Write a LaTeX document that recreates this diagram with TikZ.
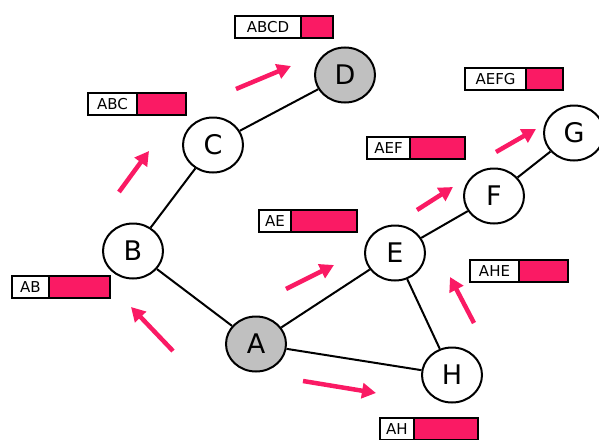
\documentclass[tikz,border=0pt]{standalone}
\usepackage{fontspec}
\setmainfont{DejaVu Sans}
\usetikzlibrary{shapes.geometric,arrows.meta}
\definecolor{hot}{RGB}{250,26,100}
\definecolor{nodegray}{RGB}{192,192,192}
\newcommand\pathbox[5]{% name, x0, xd, y0, text
  \node[lbl, fill=white, minimum width={#3-#2-1}, minimum height=22, anchor=north west] (#1w) at (#2+1,#4+1) {#5};
  \node[lbl, fill=hot, minimum width={#2+99-#3}, minimum height=22, anchor=north west] (#1p) at (#3,#4+1) {};
}
\begin{document}
\begin{tikzpicture}[x=1pt,y=-1pt,
  vert/.style={ellipse, draw, line width=2pt, minimum width=60pt, minimum height=55pt, inner sep=0pt, fill=white, font=\fontsize{27}{27}\selectfont},
  seen/.style={vert, fill=nodegray},
  edge/.style={line width=2pt},
  move/.style={draw=hot, line width=4.5pt, -{Triangle[length=14pt,width=15pt]}},
  lbl/.style={draw, line width=2pt, rectangle, inner sep=0pt, font=\fontsize{15}{15}\selectfont},
]
\useasboundingbox (0,0) rectangle (599,439);
% vertices
\node[seen] (A) at (256,344) {A};
\node[vert] (B) at (133,251) {B};
\node[vert] (C) at (213,145) {C};
\node[seen] (D) at (345,75) {D};
\node[vert] (E) at (395,253) {E};
\node[vert] (F) at (494,196) {F};
\node[vert] (G) at (574,133) {G};
\node[vert] (H) at (452,375) {H};
% edges
\draw[edge] (A) -- (B);
\draw[edge] (B) -- (C);
\draw[edge] (C) -- (D);
\draw[edge] (A) -- (E);
\draw[edge] (A) -- (H);
\draw[edge] (E) -- (H);
\draw[edge] (E) -- (F);
\draw[edge] (F) -- (G);
% path labels
\pathbox{abcd}{233}{300}{14}{ABCD}
\pathbox{abc}{86}{136}{91}{ABC}
\pathbox{aefg}{463}{525}{66}{AEFG}
\pathbox{aef}{365}{409}{135}{AEF}
\pathbox{ae}{257}{290}{208}{AE}
\pathbox{ab}{10}{48}{274}{AB}
\pathbox{ahe}{468}{518}{258}{AHE}
\pathbox{ah}{378}{413}{416}{AH}
% move arrows
\coordinate (m1s) at (119,192); \coordinate (m1e) at (149,151);
\coordinate (m2s) at (236,89);  \coordinate (m2e) at (291,66);
\coordinate (m3s) at (496,152); \coordinate (m3e) at (536,129);
\coordinate (m4s) at (417,210); \coordinate (m4e) at (453,187);
\coordinate (m5s) at (286,289); \coordinate (m5e) at (334,265);
\coordinate (m6s) at (173,351); \coordinate (m6e) at (131,307);
\coordinate (m7s) at (303,381); \coordinate (m7e) at (376,393);
\coordinate (m8s) at (474,323); \coordinate (m8e) at (450,277);
\foreach \i in {1,...,8} \draw[move] (m\i s) -- (m\i e);
\end{tikzpicture}
\end{document}
